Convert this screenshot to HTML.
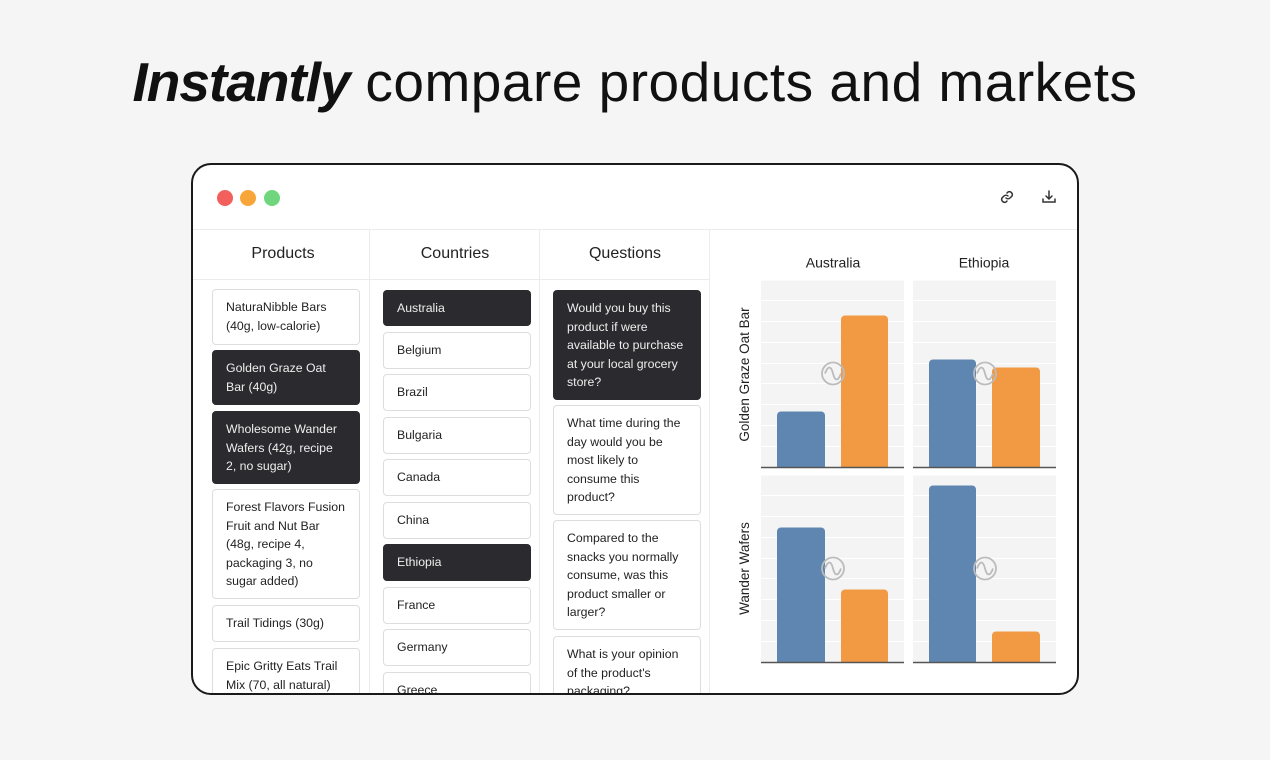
<!DOCTYPE html>
<html><head><style>
body{margin:0;width:1270px;height:760px;background:#f5f5f5;font-family:"Liberation Sans",sans-serif;position:relative;overflow:hidden}
h1{position:absolute;left:0;width:1270px;top:50px;margin:0;text-align:center;font-weight:normal;font-size:55px;color:#111;letter-spacing:0.5px}
h1 b{font-style:italic;font-weight:bold;letter-spacing:-1px}
.win{position:absolute;left:191px;top:163px;width:884px;height:528px;border:2px solid #1a1a1a;border-radius:20px;background:#fff;overflow:hidden}
.dot{position:absolute;top:25px;width:16px;height:16px;border-radius:50%}
.col{position:absolute;top:64px;bottom:0;border-right:1px solid #ececec}
.hd{position:absolute;top:64px;height:50px;line-height:50px;text-align:center;font-size:16px;color:#222;border-bottom:1px solid #ececec}
.it{position:absolute;box-sizing:border-box;border:1px solid #ddd;border-radius:4px;font-size:12.3px;color:#222;line-height:18.5px;padding:8px 13px}
.d{background:#2b2b2f;border-color:#2b2b2f;color:#eee}
</style></head><body>
<h1><b>Instantly</b> compare products and markets</h1>
<div class="win">
<div class="dot" style="left:24px;background:#f25f5c"></div>
<div class="dot" style="left:47px;background:#f8a63a"></div>
<div class="dot" style="left:71px;background:#6fd67d"></div>
<svg style="position:absolute;left:806px;top:24px" width="16" height="16" viewBox="0 0 16 16" fill="none" stroke="#333" stroke-width="1.5" stroke-linecap="round"><path d="M7 9a3 3 0 0 0 4 0l2-2a3 3 0 0 0-4-4l-1 1M9 7a3 3 0 0 0-4 0l-2 2a3 3 0 0 0 4 4l1-1"/></svg>
<svg style="position:absolute;left:848px;top:24px" width="16" height="16" viewBox="0 0 16 16" fill="none" stroke="#333" stroke-width="1.5" stroke-linecap="round"><path d="M8 2v8M5 7l3 3 3-3M2 10v3h12v-3"/></svg>
<div style="position:absolute;left:0;right:0;top:64px;border-top:1px solid #ececec"></div>
<div class="col" style="left:0;width:176px"></div>
<div class="col" style="left:177px;width:169px"></div>
<div class="col" style="left:347px;width:169px"></div>
<div class="hd" style="left:0;width:180px">Products</div>
<div class="hd" style="left:177px;width:170px">Countries</div>
<div class="hd" style="left:347px;width:170px">Questions</div>

<div class="it" style="left:19px;top:124px;width:148px;height:56px">NaturaNibble Bars (40g, low-calorie)</div>
<div class="it d" style="left:19px;top:185px;width:148px;height:55px">Golden Graze Oat Bar (40g)</div>
<div class="it d" style="left:19px;top:246px;width:148px;height:73px">Wholesome Wander Wafers (42g, recipe 2, no sugar)</div>
<div class="it" style="left:19px;top:324px;width:148px;height:110px">Forest Flavors Fusion Fruit and Nut Bar (48g, recipe 4, packaging 3, no sugar added)</div>
<div class="it" style="left:19px;top:440px;width:148px;height:37px">Trail Tidings (30g)</div>
<div class="it" style="left:19px;top:483px;width:148px;height:70px">Epic Gritty Eats Trail Mix (70, all natural)</div>

<div class="it d" style="left:190px;top:125px;width:148px;height:36px">Australia</div>
<div class="it" style="left:190px;top:167px;width:148px;height:37px">Belgium</div>
<div class="it" style="left:190px;top:209px;width:148px;height:37px">Brazil</div>
<div class="it" style="left:190px;top:252px;width:148px;height:37px">Bulgaria</div>
<div class="it" style="left:190px;top:294px;width:148px;height:37px">Canada</div>
<div class="it" style="left:190px;top:337px;width:148px;height:37px">China</div>
<div class="it d" style="left:190px;top:379px;width:148px;height:37px">Ethiopia</div>
<div class="it" style="left:190px;top:422px;width:148px;height:37px">France</div>
<div class="it" style="left:190px;top:464px;width:148px;height:37px">Germany</div>
<div class="it" style="left:190px;top:507px;width:148px;height:37px">Greece</div>

<div class="it d" style="left:360px;top:125px;width:148px;height:110px">Would you buy this product if were available to purchase at your local grocery store?</div>
<div class="it" style="left:360px;top:240px;width:148px;height:110px">What time during the day would you be most likely to consume this product?</div>
<div class="it" style="left:360px;top:355px;width:148px;height:110px">Compared to the snacks you normally consume, was this product smaller or larger?</div>
<div class="it" style="left:360px;top:471px;width:148px;height:80px">What is your opinion of the product's packaging?</div>

<svg style="position:absolute;left:518px;top:65px" width="366" height="463" font-family="Liberation Sans,sans-serif">
<g transform="translate(-711,-229.5)">
<text x="833" y="267" text-anchor="middle" font-size="14" fill="#222">Australia</text>
<text x="984" y="267" text-anchor="middle" font-size="14" fill="#222">Ethiopia</text>
<text transform="translate(749,374) rotate(-90)" text-anchor="middle" font-size="13.5" fill="#222">Golden Graze Oat Bar</text>
<text transform="translate(749,568) rotate(-90)" text-anchor="middle" font-size="13.5" fill="#222">Wander Wafers</text>
<g id="p"><rect x="761" y="280" width="143" height="187" fill="#f4f4f4"/>
<g stroke="#fff" stroke-width="1"><line x1="761" x2="904" y1="300" y2="300"/><line x1="761" x2="904" y1="321" y2="321"/><line x1="761" x2="904" y1="342" y2="342"/><line x1="761" x2="904" y1="363" y2="363"/><line x1="761" x2="904" y1="383" y2="383"/><line x1="761" x2="904" y1="404" y2="404"/><line x1="761" x2="904" y1="425" y2="425"/><line x1="761" x2="904" y1="446" y2="446"/></g></g>
<use href="#p" x="152"/><use href="#p" y="195"/><use href="#p" x="152" y="195"/>
<path d="M777 467V415a4 4 0 0 1 4-4h40a4 4 0 0 1 4 4v52z" fill="#5f86b0"/>
<path d="M841 467V319a4 4 0 0 1 4-4h39a4 4 0 0 1 4 4v148z" fill="#f29a43"/>
<path d="M929 467V363a4 4 0 0 1 4-4h39a4 4 0 0 1 4 4v104z" fill="#5f86b0"/>
<path d="M992 467V371a4 4 0 0 1 4-4h40a4 4 0 0 1 4 4v96z" fill="#f29a43"/>
<path d="M777 662V531a4 4 0 0 1 4-4h40a4 4 0 0 1 4 4v131z" fill="#5f86b0"/>
<path d="M841 662V593a4 4 0 0 1 4-4h39a4 4 0 0 1 4 4v69z" fill="#f29a43"/>
<path d="M929 662V489a4 4 0 0 1 4-4h39a4 4 0 0 1 4 4v173z" fill="#5f86b0"/>
<path d="M992 662V635a4 4 0 0 1 4-4h40a4 4 0 0 1 4 4v27z" fill="#f29a43"/>
<g stroke="#555" stroke-width="1.5"><line x1="761" x2="904" y1="467" y2="467"/><line x1="913" x2="1056" y1="467" y2="467"/><line x1="761" x2="904" y1="662" y2="662"/><line x1="913" x2="1056" y1="662" y2="662"/></g>
<g fill="none" stroke="#bbb" stroke-width="1.8">
<circle cx="833" cy="373" r="11"/><path d="M825 373c3-8 6-8 8 0s5 8 8 0"/>
<circle cx="985" cy="373" r="11"/><path d="M977 373c3-8 6-8 8 0s5 8 8 0"/>
<circle cx="833" cy="568" r="11"/><path d="M825 568c3-8 6-8 8 0s5 8 8 0"/>
<circle cx="985" cy="568" r="11"/><path d="M977 568c3-8 6-8 8 0s5 8 8 0"/>
</g>
</g></svg>
</div>
</body></html>
